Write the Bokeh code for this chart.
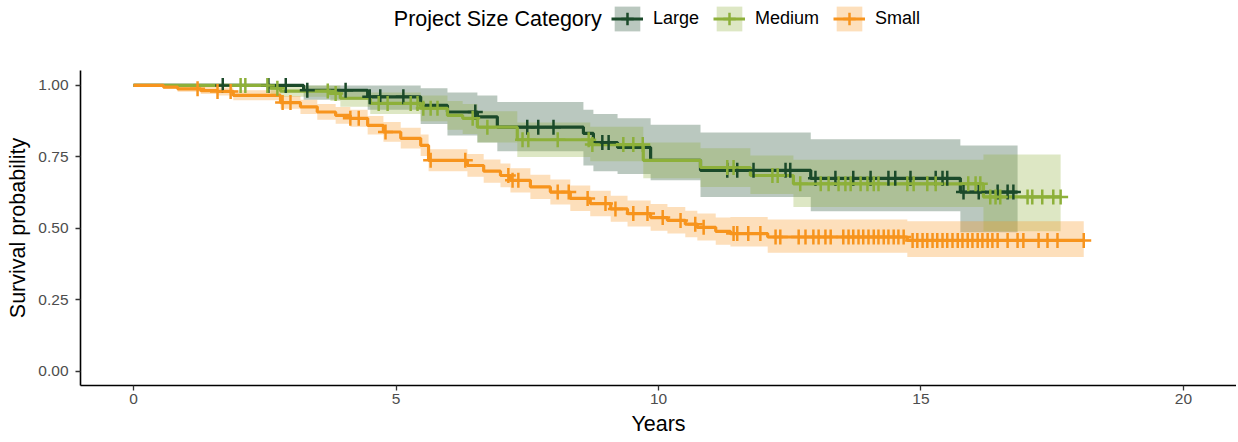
import numpy as np
from bokeh.plotting import figure
from bokeh.layouts import column
from bokeh.models import Range1d, FixedTicker, Legend, LegendItem, NumeralTickFormatter, Label
from bokeh.embed import file_html
from bokeh.resources import INLINE

FONT = "Liberation Sans"

categories = ["Large", "Medium", "Small"]
line_colors = ["#1B4A2A", "#8DB03A", "#F7941D"]
legend_title = "Project Size Category"

# ---- Large: step times (years), survival, CI upper, CI lower
large_t = [0.0, 3.24, 4.46, 5.47, 5.98, 6.55, 6.93, 8.57, 8.76, 9.22, 9.85, 10.80, 12.90, 15.75]
large_s = [1.0, 0.983, 0.96, 0.93, 0.907, 0.89, 0.854, 0.832, 0.80, 0.783, 0.738, 0.703, 0.675, 0.627]
large_hi = [1.0, 1.0, 1.0, 0.99, 0.975, 0.965, 0.942, 0.915, 0.90, 0.885, 0.862, 0.835, 0.812, 0.79]
large_lo = [1.0, 0.95, 0.915, 0.865, 0.825, 0.80, 0.77, 0.72, 0.70, 0.69, 0.668, 0.61, 0.56, 0.487]
large_end = 16.84
large_cens = [1.70, 2.57, 2.90, 3.31, 4.04, 4.50, 4.70, 5.14, 6.51, 7.50, 7.71, 8.00, 8.93, 9.05,
              11.31, 11.50, 11.81, 12.42, 12.51, 12.99, 13.37, 13.71, 14.04, 14.38, 14.51, 14.80,
              15.28, 15.41, 15.50, 15.81, 16.10, 16.46, 16.65, 16.76]

# ---- Medium
medium_t = [0.0, 2.61, 2.80, 3.75, 3.94, 4.51, 5.47, 5.98, 6.27, 6.55, 7.31, 8.70, 9.71, 10.80, 11.75, 12.57, 16.19]
medium_s = [1.0, 0.99, 0.98, 0.972, 0.955, 0.937, 0.92, 0.895, 0.885, 0.854, 0.81, 0.793, 0.738, 0.713, 0.685, 0.656, 0.61]
medium_hi = [1.0, 1.0, 1.0, 1.0, 0.985, 0.975, 0.965, 0.945, 0.935, 0.91, 0.87, 0.855, 0.80, 0.78, 0.755, 0.74, 0.758]
medium_lo = [1.0, 0.97, 0.96, 0.945, 0.925, 0.90, 0.875, 0.845, 0.83, 0.80, 0.75, 0.735, 0.675, 0.645, 0.62, 0.575, 0.49]
medium_end = 17.66
medium_cens = [2.04, 2.13, 2.55, 2.74, 3.70, 3.85, 4.67, 4.84, 5.28, 5.41, 5.52, 5.66, 5.79, 6.46, 6.74,
               7.41, 7.52, 8.08, 8.67, 8.74, 9.33, 9.52, 9.70, 11.31, 11.43, 12.17, 12.27, 12.70,
               13.09, 13.24, 13.43, 13.56, 13.66, 13.85, 13.98, 14.10, 14.19, 14.74, 14.86, 15.12,
               15.28, 15.90, 16.04, 16.13, 16.32, 16.42, 16.51, 17.03, 17.12, 17.31, 17.52, 17.66]

# ---- Small
small_t = [0.0, 0.57, 0.84, 1.28, 1.60, 1.90, 2.80, 3.18, 3.50, 3.85, 4.13, 4.46, 4.76, 5.09, 5.47, 5.62,
           6.36, 6.67, 6.99, 7.18, 7.56, 7.94, 8.32, 8.70, 9.09, 9.41, 9.85, 10.17, 10.51, 10.74, 11.09,
           11.37, 12.08, 14.74]
small_s = [1.0, 0.994, 0.988, 0.982, 0.979, 0.965, 0.94, 0.925, 0.907, 0.895, 0.885, 0.86, 0.837, 0.815,
           0.79, 0.738, 0.72, 0.70, 0.685, 0.668, 0.645, 0.627, 0.605, 0.587, 0.568, 0.552, 0.538, 0.528,
           0.515, 0.504, 0.49, 0.482, 0.47, 0.458]
small_hi = [1.0, 1.0, 0.998, 0.995, 0.993, 0.983, 0.963, 0.95, 0.935, 0.924, 0.915, 0.893, 0.872, 0.852,
            0.828, 0.777, 0.76, 0.741, 0.727, 0.71, 0.688, 0.671, 0.65, 0.632, 0.614, 0.598, 0.585, 0.575,
            0.562, 0.552, 0.538, 0.54, 0.531, 0.525]
small_lo = [1.0, 0.988, 0.978, 0.97, 0.965, 0.948, 0.918, 0.90, 0.88, 0.866, 0.855, 0.828, 0.803, 0.779,
            0.753, 0.70, 0.681, 0.66, 0.644, 0.626, 0.603, 0.584, 0.561, 0.543, 0.523, 0.507, 0.492, 0.482,
            0.469, 0.458, 0.443, 0.437, 0.415, 0.40]
small_end = 18.10
small_cens = [1.22, 1.60, 1.85, 2.84, 2.99, 4.13, 4.29, 4.80, 5.66, 6.32, 7.14, 7.22, 7.33, 8.08, 8.29,
              8.65, 8.99, 9.18, 9.52, 9.79, 10.08, 10.42, 10.70, 10.86, 11.43, 11.50, 11.71, 11.94,
              12.23, 12.32, 12.67, 12.80, 12.95, 13.05, 13.18, 13.28, 13.52, 13.62, 13.71, 13.81,
              13.90, 14.00, 14.10, 14.19, 14.29, 14.38, 14.48, 14.57, 14.67, 14.84, 14.93, 15.03,
              15.12, 15.22, 15.31, 15.41, 15.50, 15.60, 15.70, 15.79, 15.89, 15.98, 16.08, 16.17,
              16.27, 16.36, 16.46, 16.65, 16.84, 16.95, 17.24, 17.41, 17.60, 18.10]

x_ticks = [0, 5, 10, 15, 20]
y_ticks = [0.0, 0.25, 0.5, 0.75, 1.0]

groups = [
    (large_t, large_s, large_hi, large_lo, large_end, large_cens),
    (medium_t, medium_s, medium_hi, medium_lo, medium_end, medium_cens),
    (small_t, small_s, small_hi, small_lo, small_end, small_cens),
]

LINE_W = 3.2
MARK_SIZE = 15
MARK_W = 2.5
BAND_ALPHA = 0.3

# ---------------- main plot ----------------
p = figure(width=1236, height=378, output_backend="svg", toolbar_location=None,
           x_range=Range1d(-1.01, 21.01), y_range=Range1d(-0.049, 1.052),
           min_border_left=80, min_border_right=0, min_border_top=8, min_border_bottom=55)
p.background_fill_color = "white"
p.border_fill_color = "white"
p.outline_line_color = None
p.grid.visible = False


def ext(t, v, end):
    return list(t) + [end], list(v) + [v[-1]]


for (t, s, hi, lo, end, cens), col in zip(groups, line_colors):
    tx, hix = ext(t, hi, end)
    _, lox = ext(t, lo, end)
    p.varea_step(x=tx, y1=lox, y2=hix, step_mode="after", fill_color=col, fill_alpha=BAND_ALPHA)
for (t, s, hi, lo, end, cens), col in zip(groups, line_colors):
    tx, sx = ext(t, s, end)
    p.step(x=tx, y=sx, mode="after", line_color=col, line_width=LINE_W)
for (t, s, hi, lo, end, cens), col in zip(groups, line_colors):
    ta = np.array(t)
    sa = np.array(s)
    idx = np.searchsorted(ta, np.array(cens), side="right") - 1
    p.scatter(x=cens, y=sa[idx], marker="cross", size=MARK_SIZE, line_color=col, line_width=MARK_W)

for ax in (p.xaxis, p.yaxis):
    ax.axis_line_color = "black"
    ax.axis_line_width = 1.6
    ax.major_tick_line_color = "#333333"
    ax.major_tick_line_width = 1.3
    ax.major_tick_out = 5
    ax.major_tick_in = 0
    ax.minor_tick_line_color = None
    ax.major_label_text_font = FONT
    ax.major_label_text_font_size = "15.5px"
    ax.major_label_text_color = "#4D4D4D"
    ax.axis_label_text_font = FONT
    ax.axis_label_text_font_size = "21.5px"
    ax.axis_label_text_font_style = "normal"
    ax.axis_label_text_color = "black"

p.xaxis.ticker = FixedTicker(ticks=x_ticks)
p.yaxis.ticker = FixedTicker(ticks=y_ticks)
p.yaxis.formatter = NumeralTickFormatter(format="0.00")
p.xaxis.axis_label = "Years"
p.yaxis.axis_label = "Survival probability"
p.xaxis.major_label_standoff = 3
p.xaxis.axis_label_standoff = 5
p.yaxis.major_label_standoff = 7
p.yaxis.axis_label_standoff = 5

# ---------------- legend strip ----------------
leg = figure(width=1236, height=62, output_backend="svg", toolbar_location=None,
             x_range=Range1d(0, 1236), y_range=Range1d(0, 62),
             x_axis_location=None, y_axis_location=None,
             min_border_left=0, min_border_right=0, min_border_top=0, min_border_bottom=0)
leg.grid.visible = False
leg.outline_line_color = None
leg.background_fill_color = "white"
leg.border_fill_color = "white"

items = []
for c, col in zip(categories, line_colors):
    # key renderers kept outside the visible strip; they only feed the legend keys
    b = leg.varea_step(x=[-50, -40], y1=[-50, -50], y2=[-45, -45], step_mode="after",
                       fill_color=col, fill_alpha=BAND_ALPHA)
    l = leg.step(x=[-50, -40], y=[-50, -50], mode="after", line_color=col, line_width=LINE_W)
    m = leg.scatter(x=[-50], y=[-50], marker="cross", size=MARK_SIZE, line_color=col, line_width=MARK_W)
    items.append(LegendItem(label=c, renderers=[b, l, m]))

legend = Legend(items=items, orientation="horizontal", location=(531, 28))
legend.label_text_font = FONT
legend.label_text_font_size = "18px"
legend.label_text_color = "black"
legend.glyph_width = 32
legend.glyph_height = 31
legend.label_standoff = 10
legend.spacing = 14
legend.padding = 0
legend.margin = 0
legend.border_line_color = None
legend.background_fill_alpha = 0
leg.add_layout(legend, "center")

leg.add_layout(Label(x=335, y=44, text=legend_title, text_font=FONT, text_font_size="21.5px",
                     text_color="black", text_baseline="middle", text_align="left"))

layout = column(leg, p)
open("out.html", "w").write(file_html(layout, INLINE))
